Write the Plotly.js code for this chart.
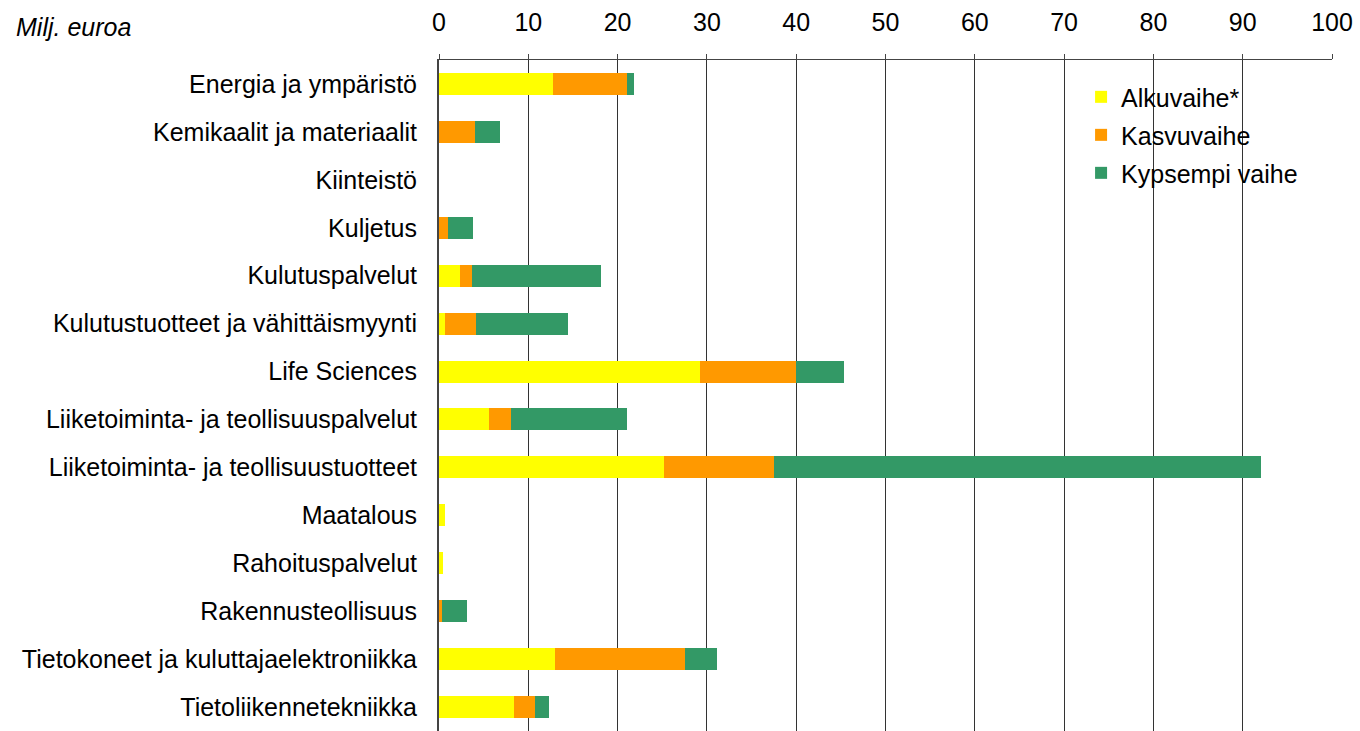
<!DOCTYPE html>
<html><head><meta charset="utf-8">
<script src="https://cdn.plot.ly/plotly-3.0.1.min.js"></script>
<style>html,body{margin:0;padding:0;background:#fff}#chart{width:1360px;height:731px}</style>
</head><body><div id="chart"></div>
<script>
const categories = ["Energia ja ympäristö","Kemikaalit ja materiaalit","Kiinteistö","Kuljetus","Kulutuspalvelut","Kulutustuotteet ja vähittäismyynti","Life Sciences","Liiketoiminta- ja teollisuuspalvelut","Liiketoiminta- ja teollisuustuotteet","Maatalous","Rahoituspalvelut","Rakennusteollisuus","Tietokoneet ja kuluttajaelektroniikka","Tietoliikennetekniikka"];
const alkuvaihe = [12.8, 0, 0, 0, 2.35, 0.65, 29.2, 5.6, 25.2, 0.65, 0.4, 0, 13.0, 8.4];
const kasvuvaihe = [8.3, 4.0, 0, 1.0, 1.35, 3.45, 10.8, 2.45, 12.3, 0, 0, 0.35, 14.55, 2.35];
const kypsempi = [0.75, 2.85, 0, 2.8, 14.4, 10.35, 5.35, 13.0, 54.5, 0, 0, 2.75, 3.6, 1.55];
const seriesNames = ["Alkuvaihe*","Kasvuvaihe","Kypsempi vaihe"];
const colors = ["#ffff00","#ff9900","#339966"];
const vals = [alkuvaihe, kasvuvaihe, kypsempi];
const traces = vals.map((v,i)=>({type:'bar',orientation:'h',y:categories,x:v,name:seriesNames[i],legendgroup:'g'+i,marker:{color:colors[i],line:{width:0}},hoverinfo:'x+y'}));
const layout = {
  width:1360,height:731,barmode:'stack',bargap:0.54,
  margin:{l:439,r:28,t:60,b:0},
  paper_bgcolor:'#fff',plot_bgcolor:'#fff',
  font:{family:'Liberation Sans, Arial, sans-serif',size:25,color:'#000'},
  xaxis:{side:'top',range:[0,100],dtick:10,tick0:0,showgrid:true,gridcolor:'#333',gridwidth:1,
    zeroline:false,showline:true,linecolor:'#444',linewidth:1,ticks:'outside',ticklen:5,tickcolor:'#444',
    tickfont:{size:25},ticklabelstandoff:13,fixedrange:true},
  yaxis:{autorange:'reversed',showline:true,linecolor:'#444',linewidth:2,ticks:'',showgrid:false,
    tickfont:{size:25},ticklabelstandoff:15,fixedrange:true},
  legend:{x:0.719,y:0.979,xanchor:'left',yanchor:'top',traceorder:'grouped',font:{size:25},bgcolor:'rgba(255,255,255,0)',tracegroupgap:2.5},
  annotations:[{text:'<i>Milj. euroa</i>',xref:'paper',yref:'paper',x:(14-439)/893,y:1+(60-27)/671,xanchor:'left',yanchor:'middle',showarrow:false,font:{size:25}}],
  showlegend:true
};
Plotly.newPlot('chart',traces,layout,{displayModeBar:false,staticPlot:true});
</script></body></html>
